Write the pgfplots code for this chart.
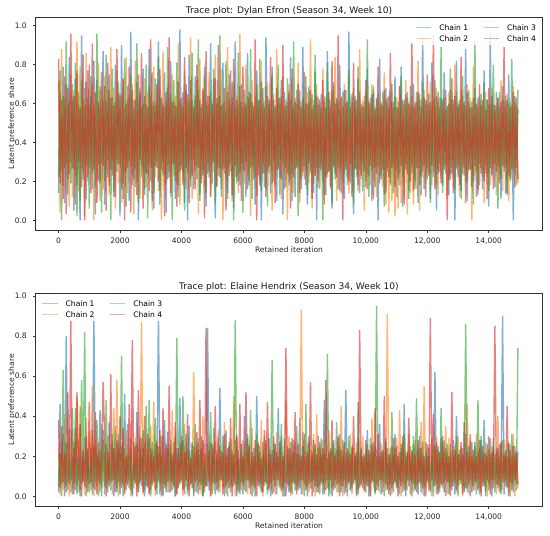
\documentclass[border=0pt]{standalone}
\usepackage{fontspec}
\setmainfont{DejaVu Sans}
\usepackage{pgfplots}
\usepackage{pgfplotstable}
\pgfplotsset{compat=1.18}
\definecolor{cA}{HTML}{1F77B4}
\definecolor{cB}{HTML}{FF7F0E}
\definecolor{cC}{HTML}{2CA02C}
\definecolor{cD}{HTML}{D62728}

% Dylan Efron: latent preference share (percent), 4 chains, every 50th retained iteration
\pgfplotstableread{
c1 c2 c3 c4
14 71 22 83
66 4 77 19
25 88 0 62
79 18 64 11
9 63 27 74
70 29 92 3
21 58 13 68
84 7 61 24
30 75 19 96
62 12 70 27
5 67 26 64
73 23 81 8
18 92 2 77
60 15 66 30
0 79 10 58
95 27 72 17
24 62 21 85
68 2 59 0
11 86 28 71
77 20 63 22
27 60 6 80
64 31 74 14
16 70 24 91
82 0 58 26
3 65 17 66
72 21 96 9
20 81 29 61
59 10 69 19
29 67 4 76
87 16 62 28
8 74 20 69
61 26 85 5
22 57 31 81
75 13 67 18
26 89 0 63
63 30 78 23
12 68 15 59
80 6 61 12
31 77 25 88
66 19 71 29
2 59 28 65
90 9 64 16
19 72 11 73
58 24 83 0
25 84 7 60
69 14 62 27
10 63 30 79
97 28 75 4
23 70 18 67
62 3 57 21
17 82 26 62
71 20 91 13
0 61 9 75
65 11 68 31
28 58 22 86
78 25 60 6
13 73 16 64
60 17 80 24
24 66 1 58
88 29 69 15
20 64 27 93
59 5 76 10
6 79 14 61
73 22 59 28
27 61 30 70
92 15 84 20
15 67 8 78
63 0 63 26
30 87 23 60
76 18 58 2
4 62 19 66
68 28 89 21
22 58 25 94
82 12 65 14
29 75 0 61
61 23 72 29
11 64 20 59
58 19 81 7
18 91 12 71
98 8 62 25
26 60 28 63
66 24 58 18
9 77 5 84
70 16 67 27
0 63 24 65
85 30 61 9
21 94 17 72
62 11 86 23
16 59 31 58
74 26 64 16
28 72 21 80
67 3 93 27
13 83 10 62
58 21 60 19
23 68 26 67
79 17 74 1
7 61 14 87
64 29 59 24
25 76 22 64
91 13 66 12
19 57 29 60
73 25 78 30
1 85 8 73
60 18 63 17
27 62 23 90
64 27 95 22
12 78 16 59
81 0 60 26
24 61 27 68
57 20 82 5
14 89 11 66
75 28 62 23
29 60 25 77
63 10 71 13
6 69 0 83
92 22 58 28
22 64 19 62
59 14 86 20
18 96 24 69
70 29 61 10
26 58 4 79
61 19 67 25
12 80 30 60
86 23 64 16
20 63 18 66
65 2 88 27
28 72 11 61
58 26 59 21
8 64 22 93
77 13 70 0
23 59 27 62
62 21 83 18
0 82 15 71
68 30 60 24
17 61 24 58
94 16 69 12
25 71 7 64
60 24 62 28
14 57 28 84
79 5 75 19
30 65 20 62
58 18 59 9
10 88 26 68
63 27 80 26
22 60 13 63
72 11 64 21
3 74 29 90
66 25 58 16
27 62 17 59
61 0 73 24
18 70 23 66
84 21 62 6
24 58 10 78
59 14 92 22
12 63 26 61
67 28 60 27
28 81 2 70
62 9 67 14
16 61 21 58
89 23 63 25
21 57 28 76
60 26 74 18
8 66 13 60
69 19 61 29
26 93 24 67
57 6 65 11
14 62 19 59
76 24 85 23
0 70 27 64
63 17 59 20
27 60 16 62
65 29 58 26
20 78 0 72
61 13 64 8
13 63 22 58
87 22 81 24
25 58 25 66
59 16 62 17
6 67 9 82
71 27 69 28
24 84 21 60
62 10 63 22
16 61 27 95
80 25 57 15
28 64 14 63
58 19 66 0
11 70 24 67
67 28 60 26
22 59 18 61
97 14 77 20
19 63 29 58
61 23 65 12
3 68 8 81
64 26 61 27
26 57 22 62
73 15 79 18
14 88 26 66
60 21 58 23
29 62 15 59
58 5 64 25
17 66 20 72
78 24 93 16
23 60 12 61
63 18 60 28
10 70 25 65
66 27 69 11
27 58 17 57
62 12 63 24
0 65 28 79
83 22 58 19
21 61 23 60
59 17 66 26
13 76 7 67
68 8 62 14
25 60 27 63
64 4 58 22
18 66 19 86
60 10 70 27
28 58 14 61
74 2 64 17
12 63 26 58
58 6 61 21
24 69 18 69
79 9 74 28
7 57 22 62
62 12 60 8
26 72 29 65
66 3 63 24
15 61 11 60
59 14 69 20
29 64 24 91
70 8 58 15
20 58 16 61
61 16 66 27
9 82 27 66
65 5 62 18
23 62 13 58
94 22 71 25
16 67 28 63
62 19 60 12
27 59 21 75
60 25 65 23
11 71 9 61
81 18 59 28
22 62 25 95
58 27 72 16
5 68 18 64
66 13 61 24
25 63 29 58
63 21 89 19
18 60 14 62
76 29 63 26
28 57 24 67
59 11 58 0
13 66 20 60
67 24 78 21
24 62 27 73
62 17 60 14
0 80 16 64
82 26 66 27
22 61 28 59
60 12 62 18
15 67 11 84
64 28 74 24
27 58 23 61
88 20 59 9
10 70 19 66
61 25 67 26
26 63 26 58
58 0 61 17
20 79 8 63
68 23 92 28
12 59 25 60
63 16 58 13
29 64 18 70
59 27 65 24
16 61 22 62
77 9 71 20
24 66 28 57
62 22 62 11
7 60 15 68
96 18 60 27
23 68 24 64
60 26 80 16
17 57 29 59
66 13 59 25
28 63 6 63
58 24 66 19
11 72 21 61
69 15 62 28
25 58 27 89
61 28 64 14
14 65 13 62
75 10 60 23
22 61 20 58
59 21 83 26
0 69 25 66
64 27 61 17
27 59 18 63
57 19 67 21
}\dylan

% Elaine Hendrix: latent preference share (percent), 4 chains, every 50th retained iteration
\pgfplotstableread{
c1 c2 c3 c4
2 24 5 38
46 1 22 4
6 19 0 35
31 3 63 7
0 41 4 21
80 5 27 2
3 22 7 52
34 0 18 6
8 33 2 88
20 4 44 1
1 27 6 24
34 7 44 3
5 49 1 52
25 2 19 8
0 45 3 36
22 6 58 0
7 18 8 23
29 1 82 5
4 39 0 30
19 8 24 2
6 32 2 47
24 3 21 7
1 55 5 33
90 0 26 4
3 28 7 42
21 5 38 1
8 20 0 27
43 2 23 6
0 36 4 19
33 7 28 57
5 22 1 30
26 4 48 0
2 30 6 22
37 8 19 5
7 25 3 61
28 1 31 8
0 44 8 24
23 6 35 2
4 58 2 28
31 0 27 7
1 21 5 40
25 7 70 4
6 27 0 34
51 2 24 1
3 33 7 20
36 5 21 6
8 24 4 46
22 0 29 3
0 38 1 78
27 4 18 8
7 29 6 25
42 3 26 0
2 23 2 53
30 6 23 7
5 87 8 29
24 1 33 2
0 26 3 40
18 8 45 5
4 22 5 31
29 2 48 1
3 35 0 24
23 5 27 6
8 47 7 20
26 0 39 3
1 28 4 27
93 7 25 8
6 24 1 33
20 3 30 0
0 31 6 44
38 6 19 4
5 19 2 26
32 2 24 7
2 26 8 55
21 8 28 2
7 43 3 21
27 4 22 5
0 30 0 37
24 1 79 1
4 21 5 24
49 7 26 6
8 27 7 30
28 0 50 3
1 36 4 22
22 5 31 8
3 24 1 41
35 3 23 0
6 20 6 19
26 7 27 4
0 62 2 25
20 2 36 7
2 25 8 32
23 6 29 1
7 21 3 48
30 1 24 6
0 40 0 28
21 4 18 2
5 22 5 84
84 8 26 5
3 30 7 23
27 0 42 0
6 20 1 26
24 3 34 7
1 27 6 45
19 7 21 3
4 33 2 29
54 2 25 8
8 23 8 22
22 5 30 1
0 37 4 31
33 1 20 5
7 21 0 24
25 8 27 4
2 29 5 39
20 4 23 0
5 50 7 21
28 0 88 6
0 31 3 30
23 6 19 2
3 19 1 46
26 3 26 7
1 28 6 20
40 7 22 3
8 22 2 52
31 1 29 8
4 26 8 25
19 5 43 1
6 34 0 22
24 2 20 5
0 20 4 28
50 8 31 0
5 27 7 26
22 4 25 6
2 38 3 19
27 0 21 2
7 30 5 33
20 6 28 7
3 21 1 47
29 3 23 4
0 25 6 21
23 8 68 1
8 19 2 30
26 1 26 5
1 32 8 22
44 5 20 8
6 24 4 27
30 2 36 3
4 22 0 20
19 7 29 0
0 48 7 74
25 4 21 6
2 30 5 24
24 0 27 2
7 21 1 29
28 6 22 7
3 27 6 42
21 3 35 1
5 20 3 26
39 8 21 4
1 93 8 20
32 1 25 8
6 22 0 31
20 5 46 3
0 26 4 22
27 2 30 6
4 23 7 57
22 7 20 0
8 31 2 28
25 0 26 5
2 41 5 21
30 4 24 2
5 25 1 27
21 6 29 7
1 28 6 24
48 3 22 1
7 21 3 58
19 8 71 4
3 33 0 22
24 1 23 8
0 24 4 38
28 5 27 3
4 22 8 20
23 2 37 6
6 29 2 30
31 7 25 0
2 45 5 23
20 0 28 5
8 26 1 27
53 4 22 2
0 23 7 24
22 6 30 7
3 31 3 21
25 1 24 4
7 24 6 40
21 8 20 8
1 27 0 22
29 3 47 1
5 20 4 83
24 5 23 6
4 30 8 20
20 2 21 3
6 23 2 28
33 7 26 5
0 21 5 23
22 0 29 0
8 39 7 26
27 4 22 7
2 25 1 44
20 6 95 3
5 19 3 31
36 2 20 8
1 26 8 22
23 8 23 2
7 22 0 50
29 3 27 6
3 91 4 24
21 5 21 1
0 24 6 21
25 1 42 4
6 21 2 29
31 7 24 7
4 29 5 25
20 4 20 0
8 43 1 22
24 0 26 5
2 27 7 30
46 6 31 3
0 23 3 20
22 3 22 8
5 31 8 39
19 8 25 1
7 22 0 23
26 2 30 6
3 28 4 21
23 5 49 2
1 24 6 28
30 7 24 7
6 37 2 24
21 1 27 4
0 55 5 20
27 4 22 0
8 20 7 26
24 6 20 3
2 26 3 89
20 0 29 8
5 23 0 41
62 8 25 5
1 30 6 27
25 3 23 1
4 22 2 22
29 5 44 6
6 27 4 30
22 7 28 2
0 35 8 24
26 1 22 7
7 29 1 20
19 4 26 0
3 23 5 52
28 8 20 5
1 25 7 23
40 2 30 3
5 30 0 21
21 6 23 8
8 24 6 27
24 0 21 1
2 20 3 37
31 5 86 4
4 46 2 22
20 1 25 6
0 28 8 31
27 7 20 2
3 22 5 23
25 3 27 7
7 31 1 20
22 8 48 3
1 24 4 28
28 2 30 0
5 20 7 25
38 6 22 5
2 27 0 21
20 0 26 8
6 23 3 30
29 4 21 1
0 25 8 22
24 7 29 4
8 21 2 85
21 1 23 6
4 40 6 24
26 5 20 2
3 22 1 27
90 3 28 7
1 28 7 21
23 8 22 5
5 20 4 45
27 2 26 0
7 26 0 23
20 6 31 3
2 31 5 25
25 0 21 8
6 23 3 22
22 4 74 6
}\elaine

\pgfplotsset{
  every axis title shift=0pt,
  trace/.style={
    scale only axis, width=507bp,
    xmin=-750, xmax=15750,
    scaled x ticks=false, scaled y ticks=false,
    xtick={0,2000,4000,6000,8000,10000,12000,14000},
    xticklabels={0,2000,4000,6000,8000,{10,000},{12,000},{14,000}},
    ytick={0,20,40,60,80,100},
    yticklabels={0.0,0.2,0.4,0.6,0.8,1.0},
    xtick pos=lower, ytick pos=left,
    tick align=outside, major tick length=2.7bp,
    tick style={line width=0.6bp, black!80},
    axis line style={line width=0.6bp, black!80},
    tick label style={font=\fontsize{7.6}{9}\selectfont, text=black!85},
    xticklabel style={anchor=north, inner sep=0pt, yshift=-5.3bp},
    yticklabel style={anchor=east, inner sep=0pt, xshift=-5.8bp},
    label style={font=\fontsize{7.6}{9}\selectfont, text=black!85},
    xlabel={Retained iteration},
    ylabel={Latent preference share},
    xlabel style={at={(axis description cs:0.5,0)}, anchor=base, inner sep=0pt, yshift=-22.2bp},
    ylabel style={at={(axis description cs:-0.0422,0.5)}, anchor=base, inner sep=0pt},
    title style={font=\fontsize{9.1}{11}\selectfont, text=black!90, at={(axis description cs:0.5,1)}, anchor=base, inner sep=0pt, yshift=4bp},
    every axis plot/.append style={line width=1.4bp, opacity=0.58},
    legend columns=2,
    transpose legend,
    legend cell align=left,
    legend image code/.code={\draw[##1, line width=0.8bp, opacity=0.4] (0bp,0bp) -- (15.2bp,0bp);},
    legend style={draw=none, fill=white, fill opacity=0.8, text opacity=1,
      inner xsep=2.6bp, inner ysep=3.6bp, row sep=5.2bp,
      font=\fontsize{7.6}{9}\selectfont,
      nodes={inner sep=0pt, text height=5.8bp, text depth=0bp},
      /tikz/every odd column/.append style={column sep=7.6bp},
      /tikz/every even column/.append style={column sep=15.2bp}},
  }
}

\begin{document}
\begin{tikzpicture}
\useasboundingbox (0,0) rectangle (550bp,-536bp);
\begin{axis}[trace, at={(35.5bp,-230bp)}, anchor=south west, height=213bp,
  ymin=-5, ymax=104.5,
  title={Trace plot: Dylan Efron (Season 34, Week 10)},
  legend style={at={(axis description cs:1,1)}, anchor=north east, xshift=-3.8bp, yshift=-3.8bp}]
\addplot[cA] table[x expr=\coordindex*50, y=c1] {\dylan};
\addplot[cB] table[x expr=\coordindex*50, y=c2] {\dylan};
\addplot[cC] table[x expr=\coordindex*50, y=c3] {\dylan};
\addplot[cD] table[x expr=\coordindex*50, y=c4] {\dylan};
\legend{Chain 1,Chain 2,Chain 3,Chain 4}
\end{axis}
\begin{axis}[trace, at={(35.5bp,-506bp)}, anchor=south west, height=212.7bp,
  ymin=-4.8, ymax=101.3,
  title={Trace plot: Elaine Hendrix (Season 34, Week 10)},
  legend style={at={(axis description cs:0,1)}, anchor=north west, xshift=3.8bp, yshift=-3.8bp}]
\addplot[cA] table[x expr=\coordindex*50, y=c1] {\elaine};
\addplot[cB] table[x expr=\coordindex*50, y=c2] {\elaine};
\addplot[cC] table[x expr=\coordindex*50, y=c3] {\elaine};
\addplot[cD] table[x expr=\coordindex*50, y=c4] {\elaine};
\legend{Chain 1,Chain 2,Chain 3,Chain 4}
\end{axis}
\end{tikzpicture}
\end{document}
